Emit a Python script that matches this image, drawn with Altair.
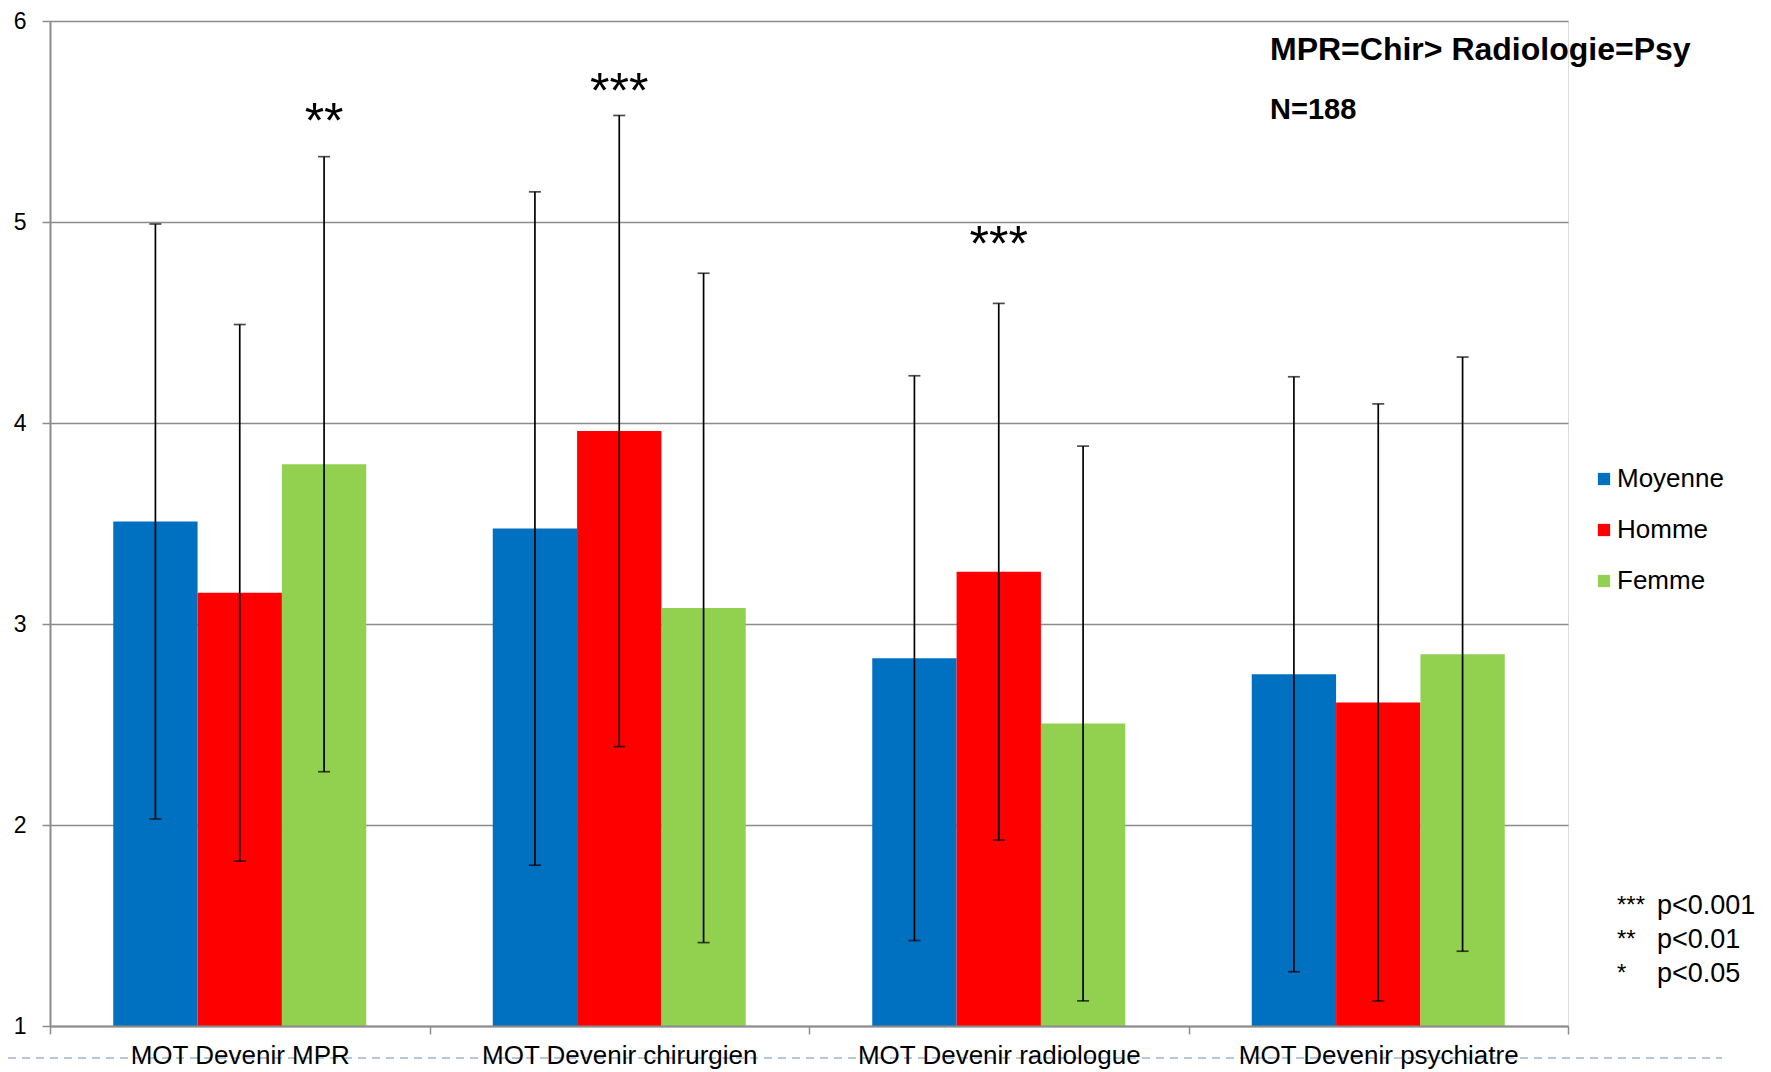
import altair as alt
import pandas as pd

categories = ["MOT Devenir MPR", "MOT Devenir chirurgien", "MOT Devenir radiologue", "MOT Devenir psychiatre"]
series = ["Moyenne", "Homme", "Femme"]
colors = ["#0070C0", "#FF0000", "#92D050"]

moyenne = [3.51, 3.475, 2.83, 2.75]
homme = [3.155, 3.96, 3.26, 2.61]
femme = [3.795, 3.08, 2.505, 2.85]
moyenne_sd = [1.48, 1.675, 1.405, 1.48]
homme_sd = [1.335, 1.57, 1.335, 1.485]
femme_sd = [1.53, 1.665, 1.38, 1.478]

star_text = ["**", "***", "***"]
star_cat = ["MOT Devenir MPR", "MOT Devenir chirurgien", "MOT Devenir radiologue"]
star_series = ["Femme", "Homme", "Homme"]
star_y = [5.54, 5.69, 4.93]

note_lines = ["MPR=Chir> Radiologie=Psy", "N=188"]
p_stars = ["***", "**", "*"]
p_labels = ["p<0.001", "p<0.01", "p<0.05"]

rows = []
for s, means, sds in zip(series, [moyenne, homme, femme], [moyenne_sd, homme_sd, femme_sd]):
    for c, m, sd in zip(categories, means, sds):
        rows.append({"cat": c, "series": s, "mean": m, "lo": m - sd, "hi": m + sd})
df = pd.DataFrame(rows)
stars_df = pd.DataFrame({"cat": star_cat, "series": star_series, "y": star_y, "t": star_text})

FONT = "Liberation Sans"

x_enc = alt.X("cat:N", sort=categories,
              scale=alt.Scale(paddingInner=0, paddingOuter=0),
              axis=alt.Axis(title=None, labelAngle=0, labelFontSize=26, labelFont=FONT,
                            labelColor="#000000", tickBand="extent", tickSize=8, labelLimit=0,
                            tickColor="#8c8c8c", tickWidth=1.5, domainColor="#8c8c8c",
                            domainWidth=2, labelPadding=8, grid=False, zindex=1))
xoff = alt.XOffset("series:N", sort=series, scale=alt.Scale(paddingInner=0, paddingOuter=0.75))
y_scale = alt.Scale(domain=[1, 6], nice=False, zero=False)

bars = alt.Chart(df).mark_bar().encode(
    x=x_enc,
    xOffset=xoff,
    y=alt.Y("mean:Q", scale=y_scale,
            axis=alt.Axis(title=None, values=[1, 2, 3, 4, 5, 6], format="d", grid=True,
                          gridColor="#8c8c8c", gridWidth=1.3, domainColor="#8c8c8c",
                          domainWidth=2, tickColor="#8c8c8c", tickSize=8, tickWidth=1.5,
                          labelFontSize=23, labelFont=FONT, labelColor="#000000",
                          labelPadding=16)),
    y2=alt.datum(1),
    color=alt.Color("series:N", sort=series,
                    scale=alt.Scale(domain=series, range=colors),
                    legend=alt.Legend(title=None, orient="none", legendX=1541, legendY=445,
                                      symbolType="square", symbolSize=150, symbolStrokeWidth=0,
                                      labelFontSize=26, labelFont=FONT, labelColor="#000000",
                                      rowPadding=25, labelOffset=0, padding=0)),
)

err = alt.Chart(df).mark_rule(color="black", strokeWidth=1.7).encode(
    x=alt.X("cat:N", sort=categories), xOffset=xoff,
    y=alt.Y("lo:Q", scale=y_scale), y2="hi:Q")
cap_lo = alt.Chart(df).mark_tick(color="black", size=12, thickness=1.7).encode(
    x=alt.X("cat:N", sort=categories), xOffset=xoff, y=alt.Y("lo:Q", scale=y_scale))
cap_hi = alt.Chart(df).mark_tick(color="black", size=12, thickness=1.7).encode(
    x=alt.X("cat:N", sort=categories), xOffset=xoff, y=alt.Y("hi:Q", scale=y_scale))

stars = alt.Chart(stars_df).mark_text(fontSize=50, font=FONT, baseline="alphabetic", dy=25,
                                      color="black").encode(
    x=alt.X("cat:N", sort=categories), xOffset=alt.XOffset("series:N", sort=series),
    y=alt.Y("y:Q", scale=y_scale), text="t:N")

notes = [
    alt.Chart().mark_text(text=note_lines[0], fontSize=32, fontWeight="bold", font=FONT,
                          align="left", baseline="middle", color="black").encode(
        x=alt.value(1220), y=alt.value(29)),
    alt.Chart().mark_text(text=note_lines[1], fontSize=29, fontWeight="bold", font=FONT,
                          align="left", baseline="middle", color="black").encode(
        x=alt.value(1220), y=alt.value(89)),
]
for i, (ps, pl) in enumerate(zip(p_stars, p_labels)):
    notes.append(alt.Chart().mark_text(text=ps, fontSize=24, font=FONT, align="left",
                                       baseline="middle", color="black").encode(
        x=alt.value(1567), y=alt.value(885 + 34 * i)))
    notes.append(alt.Chart().mark_text(text=pl, fontSize=27, font=FONT, align="left",
                                       baseline="middle", color="black").encode(
        x=alt.value(1607), y=alt.value(885 + 34 * i)))

dash = alt.Chart().mark_rule(color="#9db5cc", strokeWidth=1.5, strokeDash=[8, 6]).encode(
    x=alt.value(-42), x2=alt.value(1672), y=alt.value(1037))

chart = alt.layer(dash, bars, err, cap_lo, cap_hi, stars, *notes).properties(
    width=1518, height=1005,
    padding={"left": 42, "top": 13, "right": 195, "bottom": 44},
    autosize=alt.AutoSizeParams(type="none"),
).configure_view(stroke=None).configure(background="white")

chart.save("out.html", embed_options={"renderer": "svg", "actions": False})
